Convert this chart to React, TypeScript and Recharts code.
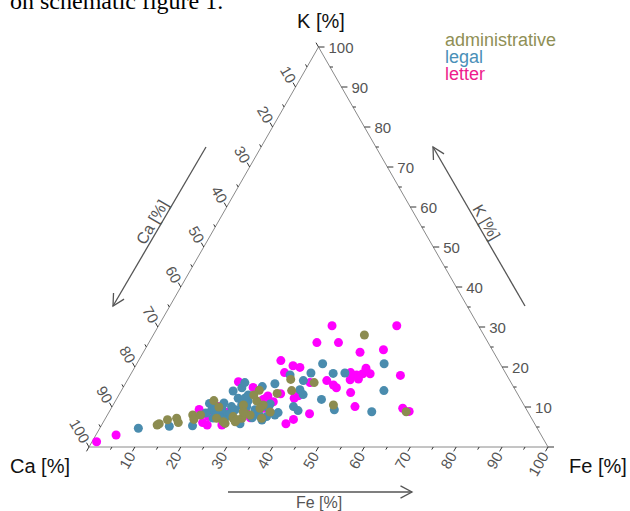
import React from 'react';
import { ScatterChart, Scatter, XAxis, YAxis, ReferenceLine, Legend } from 'recharts';

// Ternary data: Fe [%] and K [%]; Ca [%] = 100 - Fe - K
const adminFe = [12.1, 12.4, 13.7, 15.5, 16.4, 18.6, 19.4, 20.3, 21.4, 26.7, 27.8, 28.4, 30.0, 34.3, 37.1, 35.5, 41.0, 48.0, 46.0, 64.7, 24.2, 26.1, 27.6, 28.7, 29.7, 29.8, 31.1, 30.8, 32.7, 34.0, 32.4, 28.8, 29.2, 29.4, 35.1, 23.3];
const adminK = [5.5, 5.8, 6.8, 7.2, 6.1, 8.0, 6.9, 8.0, 11.6, 5.9, 7.2, 10.5, 14.2, 13.4, 14.1, 16.9, 16.1, 10.5, 28.0, 8.8, 7.2, 6.3, 7.6, 6.3, 7.2, 8.4, 8.0, 11.5, 10.5, 7.2, 9.7, 6.8, 8.8, 13.0, 8.75, 10.0];

const legalFe = [8.4, 14.9, 19.9, 20.8, 24.4, 25.9, 25.9, 28.2, 30.2, 32.6, 34.8, 38.4, 39.1, 40.5, 44.0, 46.5, 53.9, 57.2, 38.8, 40.1, 44.7, 48.8, 57.2, 39.5, 41.0, 36.9, 36.5, 22.1, 23.4, 24.1, 25.1, 26.2, 26.5, 26.0, 27.2, 28.0, 26.4, 29.3, 31.5, 32.7, 33.5, 34.9, 23.9, 22.5, 28.9, 31.9, 34.1, 24.9, 30.0, 23.4, 27.9, 34.1, 21.2, 34.3];
const legalK = [4.7, 5.2, 5.3, 10.9, 14.0, 14.8, 16.1, 13.0, 15.1, 15.8, 18.0, 16.6, 18.5, 20.8, 18.4, 18.5, 20.8, 14.1, 14.3, 13.1, 11.9, 9.3, 8.8, 10.1, 9.1, 8.6, 8.0, 9.3, 8.8, 9.7, 8.4, 7.6, 8.4, 10.1, 9.3, 10.5, 12.2, 10.1, 9.3, 8.4, 7.6, 7.6, 11.0, 10.0, 11.5, 7.3, 9.8, 7.3, 5.8, 7.25, 12.25, 10.75, 8.5, 6.75];

const letterFe = [1.0, 4.4, 19.3, 23.0, 22.2, 23.1, 24.4, 28.3, 31.0, 34.3, 36.0, 33.3, 36.6, 41.3, 37.8, 51.9, 47.2, 52.0, 47.7, 49.3, 50.5, 50.5, 52.1, 48.5, 50.2, 58.9, 40.1, 43.5, 45.5, 46.5, 38.6, 39.2, 50.2, 52.9, 63.5, 65.3, 43.9, 41.1, 40.0, 34.5, 35.1, 32.0, 21.7, 32.4, 33.1, 28.7, 25.9, 31.5, 29.8, 26.2, 32.6];
const letterK = [1.3, 3.0, 9.4, 5.5, 7.6, 10.1, 16.3, 14.9, 21.6, 20.3, 19.9, 18.6, 26.1, 26.1, 30.3, 30.3, 23.7, 24.3, 18.6, 18.0, 18.3, 19.7, 18.3, 16.8, 17.0, 17.9, 16.1, 16.6, 15.5, 14.8, 12.2, 12.8, 13.6, 10.1, 9.7, 8.9, 8.3, 6.9, 5.8, 11.3, 13.3, 11.9, 6.1, 12.1, 9.7, 10.5, 8.75, 7.3, 8.75, 5.5, 12.75];

const tickValues = [0, 5, 10, 15, 20, 25, 30, 35, 40, 45, 50, 55, 60, 65, 70, 75, 80, 85, 90, 95, 100];
const seriesNames = ['administrative', 'legal', 'letter'];
const seriesColors = ['#8c8c50', '#4a8cae', '#ff00ff'];
const legendColors = ['#8f8f55', '#4a90b8', '#ee1c8c'];

const FONT = '"Liberation Sans", Arial, sans-serif';
const TICK_COLOR = '#555';

// ternary -> cartesian (x along base in % of edge, y = K)
const toPoints = (fe: number[], k: number[]) =>
  fe.map((f, i) => ({ fe: f, k: k[i], ca: 100 - f - k[i], x: f + k[i] / 2, y: k[i] }));

const adminData = toPoints(adminFe, adminK);
const legalData = toPoints(legalFe, legalK);
const letterData = toPoints(letterFe, letterK);

// Fe axis (bottom), Ca axis (left), K axis (right)
const bottomTicks = tickValues.map((v) => ({ x: v, y: 0, v }));
const leftTicks = tickValues.map((v) => ({ x: (100 - v) / 2, y: 100 - v, v }));
const rightTicks = tickValues.map((v) => ({ x: 100 - v / 2, y: v, v }));

const titleAnchors = [
  { x: 50, y: 100, kind: 'K' },
  { x: 0, y: 0, kind: 'Ca' },
  { x: 100, y: 0, kind: 'Fe' },
];
const arrowAnchors = [
  { x: 25.49, y: 75, kind: 'Ca' },
  { x: 94.99, y: 35.25, kind: 'K' },
  { x: 30.28, y: 0, kind: 'Fe' },
];

const Dot = (color: string) => (p: any) => <circle cx={p.cx} cy={p.cy} r={4.5} fill={color} />;

const BottomTick = (p: any) => {
  const { cx, cy, payload } = p;
  const major = payload.v % 10 === 0;
  const len = major ? 5 : 3;
  const dx = -0.5, dy = 0.866;
  return (
    <g>
      <line x1={cx} y1={cy} x2={cx + dx * len} y2={cy + dy * len} stroke="#333" strokeWidth={1} />
      {major && payload.v > 0 && (
        <text
          transform={`translate(${cx + dx * 7},${cy + dy * 7}) rotate(-60)`}
          textAnchor="end"
          dominantBaseline="central"
          fontFamily={FONT}
          fontSize={15}
          fill={TICK_COLOR}
        >
          {payload.v}
        </text>
      )}
    </g>
  );
};

const LeftTick = (p: any) => {
  const { cx, cy, payload } = p;
  const major = payload.v % 10 === 0;
  const len = major ? 5 : 3;
  const dx = -0.5, dy = -0.866;
  return (
    <g>
      <line x1={cx} y1={cy} x2={cx + dx * len} y2={cy + dy * len} stroke="#333" strokeWidth={1} />
      {major && payload.v > 0 && (
        <text
          transform={`translate(${cx + dx * 6},${cy + dy * 6}) rotate(60)`}
          textAnchor="end"
          dominantBaseline="central"
          fontFamily={FONT}
          fontSize={15}
          fill={TICK_COLOR}
        >
          {payload.v}
        </text>
      )}
    </g>
  );
};

const RightTick = (p: any) => {
  const { cx, cy, payload } = p;
  const major = payload.v % 10 === 0;
  const len = major ? 6 : 3;
  return (
    <g>
      <line x1={cx} y1={cy} x2={cx + len} y2={cy} stroke="#333" strokeWidth={1} />
      {major && payload.v > 0 && (
        <text
          x={cx + 10}
          y={cy}
          textAnchor="start"
          dominantBaseline="central"
          fontFamily={FONT}
          fontSize={15}
          fill={TICK_COLOR}
        >
          {payload.v}
        </text>
      )}
    </g>
  );
};

const Title = (p: any) => {
  const { cx, cy, payload } = p;
  if (payload.kind === 'K') {
    return (
      <g>
        <text x={cx - 308.5} y={cy - 38} fontFamily='"Liberation Serif", "Times New Roman", serif' fontSize={24} fill="#000">
          on schematic figure 1.
        </text>
        <text x={cx + 2.5} y={cy - 19} textAnchor="middle" fontFamily={FONT} fontSize={20} fill="#111">
          K [%]
        </text>
      </g>
    );
  }
  if (payload.kind === 'Ca') {
    return (
      <text x={cx - 79} y={cy + 26} textAnchor="start" fontFamily={FONT} fontSize={20} fill="#111">
        Ca [%]
      </text>
    );
  }
  return (
    <text x={cx + 21} y={cy + 26} textAnchor="start" fontFamily={FONT} fontSize={20} fill="#111">
      Fe [%]
    </text>
  );
};

const arrowHead = (tx: number, ty: number, ux: number, uy: number) => {
  const L = 13, a = (28 * Math.PI) / 180;
  const bx = -ux, by = -uy;
  const w1x = bx * Math.cos(a) - by * Math.sin(a);
  const w1y = bx * Math.sin(a) + by * Math.cos(a);
  const w2x = bx * Math.cos(-a) - by * Math.sin(-a);
  const w2y = bx * Math.sin(-a) + by * Math.cos(-a);
  return `M${tx + w1x * L},${ty + w1y * L} L${tx},${ty} L${tx + w2x * L},${ty + w2y * L}`;
};

const ArrowShape = (p: any) => {
  const { cx, cy, payload } = p;
  let x1 = cx, y1 = cy, x2 = cx, y2 = cy;
  let label = '';
  let rot = 0;
  if (payload.kind === 'Ca') {
    x2 = cx - 93; y2 = cy + 159; label = 'Ca [%]'; rot = -60;
  } else if (payload.kind === 'K') {
    x2 = cx - 92; y2 = cy - 159; label = 'K [%]'; rot = 60;
  } else {
    y1 = cy + 45; x2 = cx + 184; y2 = cy + 45; label = 'Fe [%]'; rot = 0;
  }
  const len = Math.hypot(x2 - x1, y2 - y1);
  const ux = (x2 - x1) / len, uy = (y2 - y1) / len;
  const mx = (x1 + x2) / 2, my = (y1 + y2) / 2;
  const r = (rot * Math.PI) / 180;
  const upx = Math.sin(r), upy = -Math.cos(r);
  let lx = mx + upx * 3, ly = my + upy * 3;
  if (payload.kind === 'Fe') { lx = mx - 1; ly = my + 16; }
  return (
    <g>
      <line x1={x1} y1={y1} x2={x2} y2={y2} stroke="#555" strokeWidth={1.3} />
      <path d={arrowHead(x2, y2, ux, uy)} stroke="#555" strokeWidth={1.3} fill="none" />
      <text
        transform={`translate(${lx},${ly}) rotate(${rot})`}
        textAnchor="middle"
        fontFamily={FONT}
        fontSize={16}
        fill="#555"
      >
        {label}
      </text>
    </g>
  );
};

const LegendContent = () => (
  <div style={{ fontFamily: FONT, fontSize: 18, lineHeight: '17px' }}>
    {seriesNames.map((n, i) => (
      <div key={n} style={{ color: legendColors[i], height: 17, lineHeight: '17px' }}>{n}</div>
    ))}
  </div>
);

export default function App() {
  return (
    <div style={{ position: 'absolute', left: 0, top: 0, width: 630, height: 511, background: '#fff' }}>
      <ScatterChart width={630} height={511} margin={{ top: 47, right: 82, bottom: 64, left: 89 }}>
        <XAxis type="number" dataKey="x" domain={[0, 100]} hide />
        <YAxis type="number" dataKey="y" domain={[0, 100]} hide />
        <ReferenceLine segment={[{ x: 0, y: 0 }, { x: 100, y: 0 }]} stroke="#8a8a8a" strokeWidth={1} ifOverflow="visible" />
        <ReferenceLine segment={[{ x: 0, y: 0 }, { x: 50, y: 100 }]} stroke="#8a8a8a" strokeWidth={1} ifOverflow="visible" />
        <ReferenceLine segment={[{ x: 100, y: 0 }, { x: 50, y: 100 }]} stroke="#8a8a8a" strokeWidth={1} ifOverflow="visible" />
        <Scatter data={bottomTicks} shape={BottomTick} isAnimationActive={false} legendType="none" />
        <Scatter data={leftTicks} shape={LeftTick} isAnimationActive={false} legendType="none" />
        <Scatter data={rightTicks} shape={RightTick} isAnimationActive={false} legendType="none" />
        <Scatter data={titleAnchors} shape={Title} isAnimationActive={false} legendType="none" />
        <Scatter data={arrowAnchors} shape={ArrowShape} isAnimationActive={false} legendType="none" />
        <Scatter name="letter" data={letterData} shape={Dot(seriesColors[2])} isAnimationActive={false} />
        <Scatter name="legal" data={legalData} shape={Dot(seriesColors[1])} isAnimationActive={false} />
        <Scatter name="administrative" data={adminData} shape={Dot(seriesColors[0])} isAnimationActive={false} />
        <Legend
          layout="horizontal"
          verticalAlign="middle"
          align="center"
          wrapperStyle={{ position: 'absolute', top: 32, left: 445, width: 150, height: 60 }}
          content={LegendContent}
        />
      </ScatterChart>
    </div>
  );
}
